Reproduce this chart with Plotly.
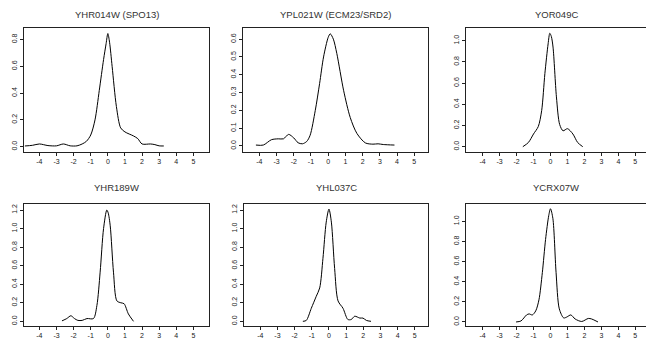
import plotly.graph_objects as go

OFF = 8  # default page margin of the html body
W, H = 654 - OFF, 344 - OFF

titles = ["YHR014W (SPO13)", "YPL021W (ECM23/SRD2)", "YOR049C",
          "YHR189W", "YHL037C", "YCRX07W"]

# density curves
x1 = [-4.85, -4.4, -4.0, -3.5, -3.0, -2.6, -2.2, -1.8, -1.5, -1.25, -1.0, -0.75, -0.5, -0.25, -0.1, 0.0, 0.1, 0.25, 0.5, 0.75, 1.0, 1.5, 1.75, 2.0, 2.5, 2.75, 3.0, 3.27]
y1 = [0.005, 0.01, 0.02, 0.008, 0.006, 0.02, 0.006, 0.006, 0.02, 0.04, 0.087, 0.2, 0.42, 0.65, 0.77, 0.845, 0.78, 0.6, 0.3, 0.14, 0.11, 0.08, 0.06, 0.02, 0.02, 0.015, 0.006, 0.005]

x2 = [-4.2, -3.77, -3.3, -2.9, -2.6, -2.3, -2.0, -1.75, -1.5, -1.25, -1.05, -0.75, -0.5, -0.27, 0.0, 0.12, 0.3, 0.5, 0.9, 1.28, 1.67, 2.16, 2.6, 2.9, 3.2, 3.85]
y2 = [0.005, 0.005, 0.035, 0.04, 0.04, 0.065, 0.045, 0.018, 0.012, 0.025, 0.06, 0.2, 0.35, 0.5, 0.61, 0.63, 0.6, 0.52, 0.31, 0.16, 0.07, 0.017, 0.01, 0.012, 0.008, 0.005]

x3 = [-1.63, -1.3, -1.0, -0.72, -0.52, -0.33, -0.14, -0.04, 0.05, 0.15, 0.35, 0.54, 0.74, 1.0, 1.32, 1.6, 1.9]
y3 = [0.0, 0.04, 0.12, 0.19, 0.34, 0.69, 0.97, 1.07, 1.04, 0.94, 0.47, 0.21, 0.15, 0.17, 0.12, 0.04, 0.0]

x4 = [-2.68, -2.4, -2.16, -1.95, -1.75, -1.5, -1.22, -0.84, -0.64, -0.45, -0.25, -0.06, 0.02, 0.14, 0.33, 0.53, 0.76, 0.95, 1.2, 1.5]
y4 = [0.005, 0.03, 0.06, 0.03, 0.01, 0.01, 0.03, 0.03, 0.17, 0.53, 1.0, 1.2, 1.17, 1.03, 0.53, 0.22, 0.2, 0.19, 0.08, 0.0]

x5 = [-1.52, -1.32, -1.03, -0.74, -0.54, -0.35, -0.16, 0.0, 0.14, 0.33, 0.53, 0.82, 1.1, 1.3, 1.5, 1.8, 1.98, 2.18, 2.45]
y5 = [0.0, 0.01, 0.14, 0.27, 0.36, 0.68, 1.07, 1.21, 1.07, 0.57, 0.22, 0.14, 0.02, 0.02, 0.055, 0.035, 0.035, 0.01, 0.0]

x6 = [-2.03, -1.74, -1.41, -1.26, -1.07, -0.87, -0.68, -0.48, -0.29, -0.1, 0.0, 0.14, 0.33, 0.52, 0.78, 0.97, 1.2, 1.45, 1.84, 2.23, 2.42, 2.8]
y6 = [0.0, 0.01, 0.07, 0.08, 0.07, 0.11, 0.22, 0.49, 0.82, 1.06, 1.125, 1.03, 0.49, 0.13, 0.04, 0.05, 0.07, 0.03, 0.005, 0.035, 0.03, 0.0]

xs = [x1, x2, x3, x4, x5, x6]
ys = [y1, y2, y3, y4, y5, y6]

x_tick_vals = [-4, -3, -2, -1, 0, 1, 2, 3, 4, 5]
x_tick_text = ["-4", "-3", "-2", "-1", "0", "1", "2", "3", "4", "5"]

y_ticks = [
    [0.0, 0.2, 0.4, 0.6, 0.8],
    [0.0, 0.1, 0.2, 0.3, 0.4, 0.5, 0.6],
    [0.0, 0.2, 0.4, 0.6, 0.8, 1.0],
    [0.0, 0.2, 0.4, 0.6, 0.8, 1.0, 1.2],
    [0.0, 0.2, 0.4, 0.6, 0.8, 1.0, 1.2],
    [0.0, 0.2, 0.4, 0.6, 0.8, 1.0],
]

# layout (pixel boxes in the page) and axis ranges
boxes = [
    (24, 209.3, 28.3, 152), (243, 427.5, 28.3, 152), (466, 646, 28.3, 152),
    (24, 209.3, 204.3, 325.5), (244, 428, 204.3, 325.5), (466, 646, 203.7, 326),
]
x_ranges = [[-4.9, 5.93], [-4.95, 5.77], [-4.98, 5.63],
            [-4.9, 5.93], [-4.95, 5.77], [-4.98, 5.63]]
y_ranges = [[-0.04, 0.884], [-0.034, 0.661], [-0.05, 1.117],
            [-0.045, 1.262], [-0.045, 1.262], [-0.04, 1.175]]

fig = go.Figure()
FONT = "Liberation Sans, Arial, sans-serif"
annotations = []
for i in range(6):
    k = "" if i == 0 else str(i + 1)
    x0, x1p, yt, yb = [v - OFF for v in boxes[i]]
    fig.add_trace(go.Scatter(
        x=xs[i], y=ys[i], mode="lines",
        line=dict(color="black", width=1, shape="spline", smoothing=0.8),
        xaxis="x" + k, yaxis="y" + k, showlegend=False, hoverinfo="skip"))
    common = dict(showline=True, mirror=True, linecolor="#222", linewidth=1,
                  ticks="outside", ticklen=3, tickwidth=1, tickcolor="#222",
                  showgrid=False, zeroline=False,
                  tickfont=dict(family=FONT, size=7, color="#222"))
    fig.layout["xaxis" + k] = dict(
        domain=[x0 / W, x1p / W], range=x_ranges[i], anchor="y" + k,
        tickmode="array", tickvals=x_tick_vals, ticktext=x_tick_text, **common)
    fig.layout["yaxis" + k] = dict(
        domain=[1 - yb / H, 1 - yt / H], range=y_ranges[i], anchor="x" + k,
        tickmode="array", tickvals=y_ticks[i],
        ticktext=[("%.1f" % v) for v in y_ticks[i]], tickangle=-90, **common)
    ty = (14 if i < 3 else 187) - OFF
    annotations.append(dict(
        text=titles[i], x=(x0 + x1p) / 2 / W, y=1 - ty / H,
        xref="paper", yref="paper", showarrow=False,
        xanchor="center", yanchor="middle",
        font=dict(family=FONT, size=9.5, color="#333")))

fig.update_layout(width=W, height=H, margin=dict(l=0, r=0, t=0, b=0),
                  paper_bgcolor="white", plot_bgcolor="white",
                  annotations=annotations)
fig.write_html("out.html")
